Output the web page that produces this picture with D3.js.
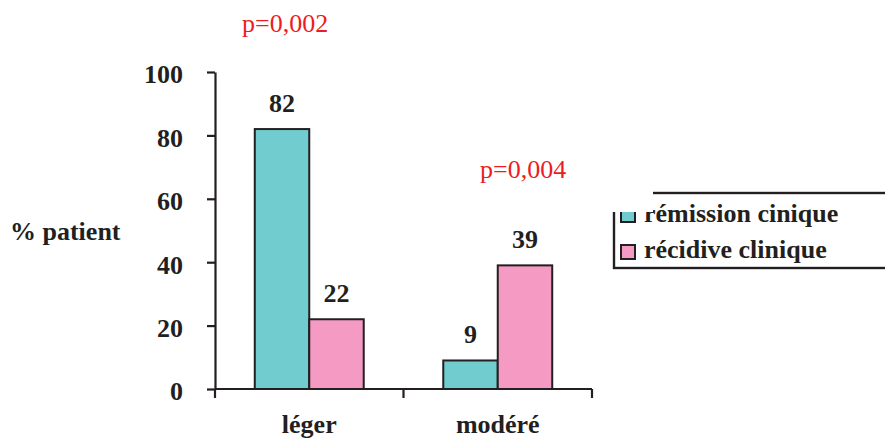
<!DOCTYPE html>
<html>
<head>
<meta charset="utf-8">
<script src="https://cdn.jsdelivr.net/npm/d3@7"></script>
<style>
    body { margin: 0; background: #fff; }
    text { font-family: "Liberation Serif", "Times New Roman", serif; }
</style>
</head>
<body>
<div id="chart-area"></div>
<script>
// data
const categories = ["léger", "modéré"];
const series = ["rémission cinique", "récidive clinique"];
const remission = [82, 9];
const recidive = [22, 39];
const pValues = ["p=0,002", "p=0,004"];
const yTicks = [0, 20, 40, 60, 80, 100];

const colors = ["#70CCCE", "#F49AC3"];
const ink = "#231F20";
const red = "#ED1C24";

const svg = d3.select("#chart-area").append("svg")
    .attr("width", 885)
    .attr("height", 441);

const x0 = d3.scaleBand()
    .domain(categories)
    .range([215, 592]);

const x1 = d3.scaleBand()
    .domain(series)
    .range([0, x0.bandwidth()])
    .paddingInner(0)
    .paddingOuter(0.73);

const y = d3.scaleLinear()
    .domain([0, 100])
    .range([389, 72]);

// y axis
const yAxis = svg.append("g")
    .attr("transform", "translate(215,0)")
    .call(d3.axisLeft(y).tickValues(yTicks).tickSize(8).tickSizeOuter(0).tickPadding(24));
yAxis.select(".domain").attr("stroke", ink).attr("stroke-width", 2.2);
yAxis.selectAll(".tick line").attr("stroke", ink).attr("stroke-width", 2.2);
yAxis.selectAll(".tick text")
    .attr("font-family", "Liberation Serif")
    .attr("font-size", 26)
    .attr("font-weight", "bold")
    .attr("fill", ink)
    .attr("dy", "0.42em");

// x axis
svg.append("line")
    .attr("x1", x0.range()[0]).attr("x2", x0.range()[1])
    .attr("y1", y(0)).attr("y2", y(0))
    .attr("stroke", ink).attr("stroke-width", 2.2);

const xEdges = categories.map((c) => x0(c)).concat([x0.range()[1]]);
svg.selectAll(".xtick")
    .data(xEdges)
    .enter()
    .append("line")
    .attr("class", "xtick")
    .attr("x1", (d) => d).attr("x2", (d) => d)
    .attr("y1", y(0)).attr("y2", y(0) + 9)
    .attr("stroke", ink).attr("stroke-width", 2.2);

svg.selectAll(".xlabel")
    .data(categories)
    .enter()
    .append("text")
    .attr("class", "xlabel")
    .attr("x", (d) => x0(d) + x0.bandwidth() / 2)
    .attr("y", 433)
    .attr("text-anchor", "middle")
    .attr("font-size", 26)
    .attr("font-weight", "bold")
    .attr("fill", ink)
    .text((d) => d);

// bars
const rows = categories.map((c, i) => ({
    cat: c,
    values: [
        { s: series[0], v: remission[i], c: colors[0] },
        { s: series[1], v: recidive[i], c: colors[1] }
    ]
}));

const groups = svg.selectAll(".grp")
    .data(rows)
    .enter()
    .append("g")
    .attr("class", "grp")
    .attr("transform", (d) => "translate(" + x0(d.cat) + ",0)");

groups.selectAll("rect")
    .data((d) => d.values)
    .enter()
    .append("rect")
    .attr("x", (d) => x1(d.s))
    .attr("y", (d) => y(d.v))
    .attr("width", x1.bandwidth())
    .attr("height", (d) => y(0) - y(d.v))
    .attr("fill", (d) => d.c)
    .attr("stroke", ink)
    .attr("stroke-width", 2);

groups.selectAll(".val")
    .data((d) => d.values)
    .enter()
    .append("text")
    .attr("class", "val")
    .attr("x", (d) => x1(d.s) + x1.bandwidth() / 2)
    .attr("y", (d) => y(d.v) - 17)
    .attr("text-anchor", "middle")
    .attr("font-size", 26)
    .attr("font-weight", "bold")
    .attr("fill", ink)
    .text((d) => d.v);

// y label
svg.append("text")
    .attr("x", 10)
    .attr("y", 240)
    .attr("font-size", 26)
    .attr("font-weight", "bold")
    .attr("fill", ink)
    .text("% patient");

// legend
const legend = svg.append("g");
legend.append("rect")
    .attr("x", 614).attr("y", 193)
    .attr("width", 300).attr("height", 75)
    .attr("fill", "#fff")
    .attr("stroke", ink).attr("stroke-width", 2.4);

series.forEach((s, i) => {
    legend.append("rect")
        .attr("x", 621).attr("y", 208 + i * 37)
        .attr("width", 14).attr("height", 14)
        .attr("fill", colors[i])
        .attr("stroke", ink).attr("stroke-width", 2);
    legend.append("text")
        .attr("x", 644).attr("y", 222 + i * 36)
        .attr("font-size", 26)
        .attr("font-weight", "bold")
        .attr("fill", ink)
        .text(s);
});

// p-value text boxes (the second one has a white box covering the legend's corner)
svg.append("rect")
    .attr("x", 460).attr("y", 140)
    .attr("width", 193).attr("height", 72)
    .attr("fill", "#fff");

svg.selectAll(".pval")
    .data(pValues)
    .enter()
    .append("text")
    .attr("class", "pval")
    .attr("x", (d, i) => i === 0 ? 242 : 480)
    .attr("y", (d, i) => i === 0 ? 32 : 178)
    .attr("font-size", 26)
    .attr("fill", red)
    .text((d) => d);
</script>
</body>
</html>
